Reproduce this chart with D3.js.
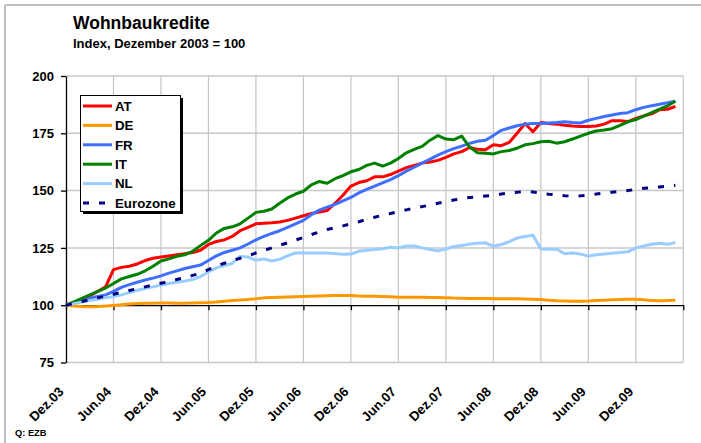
<!DOCTYPE html>
<html><head><meta charset="utf-8">
<script src="https://cdn.jsdelivr.net/npm/d3@7"></script>
<style>
body{margin:0;background:#fff;}
svg text{font-family:"Liberation Sans",Arial,sans-serif;font-weight:bold;fill:#000;}
</style></head>
<body><svg id="c" width="701" height="443"></svg>
<script>
const title = "Wohnbaukredite";
const subtitle = "Index, Dezember 2003 = 100";
const source = "Q: EZB";
const seriesNames = ["AT","DE","FR","IT","NL","Eurozone"];
const xTickLabels = ["Dez.03","Jun.04","Dez.04","Jun.05","Dez.05","Jun.06","Dez.06","Jun.07","Dez.07","Jun.08","Dez.08","Jun.09","Dez.09"];
const yTicks = [75,100,125,150,175,200];

const AT = [100,101,102.5,104,106,108,115.5,116.5,117,118,119.5,120.5,121,121.5,122,122.5,123,124,126.5,127.8,128.5,130,132.5,134,135.5,135.8,136,136.3,137,138,139,140,140.6,141.3,144.5,148,152,153.5,154.3,156,156,157,158.5,160,161,162,162.5,163.2,164.5,166,167,168.8,168,167.8,170,169.6,171,175,179.3,175.7,179.7,179.3,179,178.5,178.2,178,178,178.2,179,180.5,180.5,180.1,181.5,182.6,183.5,185.3,185.5,186.7];
const DE = [100,99.7,99.4,99.3,99.4,99.6,99.9,100.2,100.5,100.7,100.8,100.9,101,101,100.9,100.9,101,101.1,101.2,101.4,101.7,102,102.3,102.5,102.8,103.2,103.4,103.5,103.6,103.7,103.8,103.9,104,104.1,104.2,104.2,104.2,104,103.9,103.9,103.8,103.7,103.5,103.5,103.5,103.5,103.4,103.4,103.3,103.1,103,102.9,102.9,102.9,102.8,102.8,102.8,102.8,102.7,102.6,102.5,102.2,101.9,101.8,101.7,101.7,101.8,102,102.2,102.4,102.5,102.6,102.6,102.4,102,101.9,102,102.2];
const FR = [100,101,102,103,103.8,104.5,106,107.8,109,110,111,111.8,112.8,114,115,116,116.8,117.5,119.5,121.5,123,124,125,126.7,128.5,130,131.3,132.5,134,135.5,137,139.5,141.5,142.8,144,145.5,147,149,150.5,152,153.4,154.8,156.5,158.5,160.2,162,163.7,165.5,167,168.3,169.4,170.6,171.5,172,174,176.3,177.3,178.3,179,179.3,179.3,179.5,179.7,180,179.7,179.5,180.7,181.5,182.3,183,183.6,184,185.3,186.3,187,187.7,188.3,189];
const IT = [100,101.5,103,104.5,106,107.5,109.5,111.5,112.5,113.5,115,117,119.3,120.2,121.3,122,123.5,126,128.3,131.5,133.5,134.2,135.5,138,140.5,141,142,144.5,146.8,148.5,149.7,152.5,154,153.2,155.2,156.5,158.2,159.2,161,162,160.7,162,164,166.5,168,169.3,172,174,172.5,172.2,173.8,169,166.5,166.3,166,167,167.5,168.5,170,170.5,171.3,171.5,170.7,171.3,172.5,173.8,175,176,176.4,177,178.5,180,181,182.5,184,185.5,187,189];
const NL = [100,100.7,101.4,102,102.6,103.2,103.8,104.5,105.5,106.5,107.3,108,108.8,109.5,110,110.5,111.2,112.5,114.5,116.3,117.3,118.2,121.3,121,119.6,120.2,119.3,120,121.5,122.8,122.8,122.8,122.8,122.8,122.5,122.2,122.3,123.5,124,124.3,124.6,125.3,125,125.8,125.8,125,124.3,123.7,124.5,125.6,126,126.7,127,127.2,125.7,126.5,127.7,129.3,130,130.5,124.5,124.4,124.4,122.5,122.8,122.3,121.5,122,122.3,122.7,123,123.3,125,125.8,126.6,127,126.6,127.3];
const EZ = [100,100.8,101.6,102.4,103.2,104,104.8,105.6,106.4,107.2,108,108.8,109.6,110.4,111.2,112,113,114,115.5,117,118.3,119.4,120.5,121.5,122.8,123.9,125,126.2,127.2,128.4,129.6,130.8,132,133,133.8,134.6,135.5,136.4,137.5,138.4,139.2,140,140.8,141.6,142.3,143,143.7,144.5,145.2,145.9,146.5,147,147.3,147.6,147.9,148.5,149,149.3,149.6,149.4,148.8,148.4,148.1,147.8,147.6,147.7,148.1,148.5,149,149.3,149.6,150,150.6,151,151.3,151.6,152,152.3];

const series = [
  {name:"AT", values:AT, color:"#ff0000", dash:null},
  {name:"DE", values:DE, color:"#ff9900", dash:null},
  {name:"FR", values:FR, color:"#3f6fff", dash:null},
  {name:"IT", values:IT, color:"#008000", dash:null},
  {name:"NL", values:NL, color:"#99ccff", dash:null},
  {name:"Eurozone", values:EZ, color:"#000080", dash:"6,10"}
];

const svg = d3.select("#c");
const L=66, R=683.3, T=76, B=362.5;
const x = d3.scaleLinear().domain([0,78]).range([L,R]);
const y = d3.scaleLinear().domain([75,200]).range([B,T]);

// frame
svg.append("line").attr("x1",5).attr("x2",701).attr("y1",5).attr("y2",5).attr("stroke","#c0c0c0").attr("stroke-width",2);
svg.append("line").attr("x1",5).attr("x2",5).attr("y1",5).attr("y2",443).attr("stroke","#c0c0c0").attr("stroke-width",2);

// titles
svg.append("text").attr("x",73).attr("y",29).style("font-size","17.5px").text(title);
svg.append("text").attr("x",73).attr("y",48).style("font-size","13px").text(subtitle);
svg.append("text").attr("x",15).attr("y",436).style("font-size","9.3px").text(source);

// gridlines
const monthTicks = d3.range(0,79,6);
svg.append("g").selectAll("line").data(monthTicks.slice(1)).join("line")
  .attr("x1",d=>x(d)).attr("x2",d=>x(d)).attr("y1",T).attr("y2",B)
  .attr("stroke","#c4c4c4").attr("stroke-width",1.2);
svg.append("g").selectAll("line").data(yTicks.filter(v=>v!==100)).join("line")
  .attr("x1",L).attr("x2",R).attr("y1",d=>y(d)).attr("y2",d=>y(d))
  .attr("stroke","#c8c8c8").attr("stroke-width",1.5);

// y axis
const yAxis = svg.append("g").attr("transform",`translate(${L},0)`)
  .call(d3.axisLeft(y).tickValues(yTicks).tickSize(5).tickPadding(7).tickSizeOuter(0));
yAxis.select(".domain").attr("stroke","#000").attr("stroke-width",1.3);
yAxis.selectAll(".tick line").attr("stroke","#000").attr("stroke-width",1.3);
yAxis.selectAll("text").style("font-size","13px").style("font-family","Liberation Sans, Arial").style("font-weight","bold").attr("fill","#000");

// x axis at 100
const xAxis = svg.append("g").attr("transform",`translate(0,${y(100)})`)
  .call(d3.axisBottom(x).tickValues(monthTicks).tickSize(5).tickFormat("").tickSizeOuter(0));
xAxis.select(".domain").attr("stroke","#000").attr("stroke-width",1.3);
xAxis.selectAll(".tick line").attr("stroke","#000").attr("stroke-width",1.3);

// x labels at bottom
const xLab = svg.append("g").attr("transform",`translate(0,${B})`)
  .call(d3.axisBottom(x).tickValues(d3.range(0,73,6)).tickSize(0).tickFormat((d,i)=>xTickLabels[i]));
xLab.select(".domain").remove();
xLab.selectAll("text")
  .style("font-size","13.3px").style("font-family","Liberation Sans, Arial").style("font-weight","bold").attr("fill","#000")
  .attr("text-anchor","end").attr("y",0).attr("dy",0)
  .attr("transform","translate(-2,30) rotate(-45)");

// lines
const line = d3.line().x((d,i)=>x(i)).y(d=>y(d));
svg.append("g").selectAll("path").data(series).join("path")
  .attr("d",d=>line(d.values)).attr("fill","none")
  .attr("stroke",d=>d.color).attr("stroke-width",3)
  .attr("stroke-linejoin","round")
  .attr("stroke-dasharray",d=>d.dash);

// legend
const lg = svg.append("g");
lg.append("rect").attr("x",83).attr("y",98).attr("width",100).attr("height",116).attr("fill","#000");
lg.append("rect").attr("x",80.5).attr("y",95.5).attr("width",100).attr("height",116).attr("fill","#fff").attr("stroke","#000").attr("stroke-width",1);
const ly = d3.scalePoint().domain(seriesNames).range([106,203]);
const items = lg.selectAll("g.it").data(series).join("g").attr("class","it")
  .attr("transform",d=>`translate(0,${ly(d.name)})`);
items.append("line").attr("x1",83).attr("x2",112).attr("y1",0).attr("y2",0)
  .attr("stroke",d=>d.color).attr("stroke-width",3).attr("stroke-dasharray",d=>d.dash);
items.append("text").attr("x",115).attr("y",0).attr("dy","0.36em").style("font-size","13.3px").text(d=>d.name);
</script></body></html>
